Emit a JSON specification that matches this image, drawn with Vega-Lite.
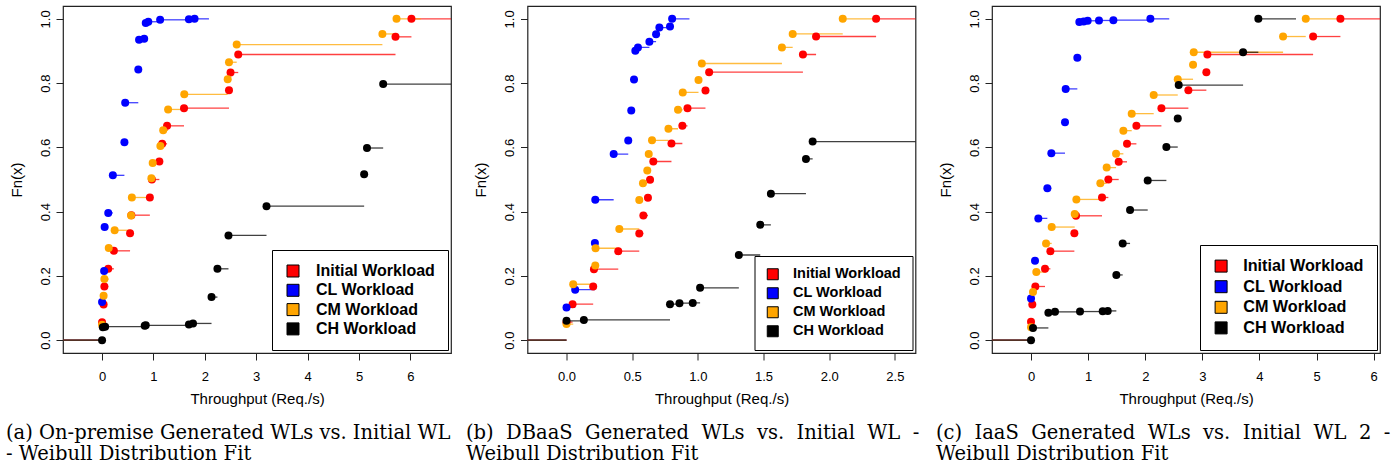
{
"$schema": "https://vega.github.io/schema/vega-lite/v6.json",
"background": "white",
"padding": {"left": 5, "top": 5, "right": 2, "bottom": 2},
"datasets": {
"tails": [
{"p":"a","s":"Initial Workload","from":-1,"to":0},{"p":"a","s":"CL Workload","from":-1,"to":0},{"p":"a","s":"CM Workload","from":-1,"to":0},{"p":"a","s":"CH Workload","from":-1,"to":0},
{"p":"b","s":"Initial Workload","from":-1,"to":0},{"p":"b","s":"CL Workload","from":-1,"to":0},{"p":"b","s":"CM Workload","from":-1,"to":0},{"p":"b","s":"CH Workload","from":-1,"to":0},
{"p":"c","s":"Initial Workload","from":-1,"to":0},{"p":"c","s":"CL Workload","from":-1,"to":0},{"p":"c","s":"CM Workload","from":-1,"to":0},{"p":"c","s":"CH Workload","from":-1,"to":0}
],
"obs": [
{"p":"a","s":"Initial Workload","x":0.0,"y":0.056,"next":0.03},
{"p":"a","s":"Initial Workload","x":0.03,"y":0.111,"next":0.045},
{"p":"a","s":"Initial Workload","x":0.045,"y":0.167,"next":0.12},
{"p":"a","s":"Initial Workload","x":0.12,"y":0.222,"next":0.23},
{"p":"a","s":"Initial Workload","x":0.23,"y":0.278,"next":0.545},
{"p":"a","s":"Initial Workload","x":0.545,"y":0.333,"next":0.57},
{"p":"a","s":"Initial Workload","x":0.57,"y":0.389,"next":0.93},
{"p":"a","s":"Initial Workload","x":0.93,"y":0.444,"next":0.97},
{"p":"a","s":"Initial Workload","x":0.97,"y":0.5,"next":1.115},
{"p":"a","s":"Initial Workload","x":1.115,"y":0.556,"next":1.17},
{"p":"a","s":"Initial Workload","x":1.17,"y":0.611,"next":1.265},
{"p":"a","s":"Initial Workload","x":1.265,"y":0.667,"next":1.595},
{"p":"a","s":"Initial Workload","x":1.595,"y":0.722,"next":2.47},
{"p":"a","s":"Initial Workload","x":2.47,"y":0.778,"next":2.5},
{"p":"a","s":"Initial Workload","x":2.5,"y":0.833,"next":2.65},
{"p":"a","s":"Initial Workload","x":2.65,"y":0.889,"next":5.71},
{"p":"a","s":"Initial Workload","x":5.71,"y":0.944,"next":6.02},
{"p":"a","s":"Initial Workload","x":6.02,"y":1.0,"next":7.5},
{"p":"a","s":"CL Workload","x":0.0,"y":0.119,"next":0.04},
{"p":"a","s":"CL Workload","x":0.04,"y":0.215,"next":0.05},
{"p":"a","s":"CL Workload","x":0.05,"y":0.352,"next":0.12},
{"p":"a","s":"CL Workload","x":0.12,"y":0.396,"next":0.21},
{"p":"a","s":"CL Workload","x":0.21,"y":0.513,"next":0.435},
{"p":"a","s":"CL Workload","x":0.435,"y":0.616,"next":0.45},
{"p":"a","s":"CL Workload","x":0.45,"y":0.739,"next":0.705},
{"p":"a","s":"CL Workload","x":0.705,"y":0.842,"next":0.72},
{"p":"a","s":"CL Workload","x":0.72,"y":0.935,"next":0.82},
{"p":"a","s":"CL Workload","x":0.82,"y":0.938,"next":0.85},
{"p":"a","s":"CL Workload","x":0.85,"y":0.987,"next":0.9},
{"p":"a","s":"CL Workload","x":0.9,"y":0.991,"next":1.13},
{"p":"a","s":"CL Workload","x":1.13,"y":0.997,"next":1.69},
{"p":"a","s":"CL Workload","x":1.69,"y":0.999,"next":1.8},
{"p":"a","s":"CL Workload","x":1.8,"y":1.0,"next":2.08},
{"p":"a","s":"CM Workload","x":0.0,"y":0.048,"next":0.03},
{"p":"a","s":"CM Workload","x":0.03,"y":0.138,"next":0.045},
{"p":"a","s":"CM Workload","x":0.045,"y":0.19,"next":0.13},
{"p":"a","s":"CM Workload","x":0.13,"y":0.287,"next":0.245},
{"p":"a","s":"CM Workload","x":0.245,"y":0.342,"next":0.565},
{"p":"a","s":"CM Workload","x":0.565,"y":0.388,"next":0.58},
{"p":"a","s":"CM Workload","x":0.58,"y":0.444,"next":0.96},
{"p":"a","s":"CM Workload","x":0.96,"y":0.504,"next":0.985},
{"p":"a","s":"CM Workload","x":0.985,"y":0.551,"next":1.135},
{"p":"a","s":"CM Workload","x":1.135,"y":0.604,"next":1.19},
{"p":"a","s":"CM Workload","x":1.19,"y":0.653,"next":1.285},
{"p":"a","s":"CM Workload","x":1.285,"y":0.718,"next":1.6},
{"p":"a","s":"CM Workload","x":1.6,"y":0.765,"next":2.445},
{"p":"a","s":"CM Workload","x":2.445,"y":0.812,"next":2.47},
{"p":"a","s":"CM Workload","x":2.47,"y":0.865,"next":2.62},
{"p":"a","s":"CM Workload","x":2.62,"y":0.92,"next":5.455},
{"p":"a","s":"CM Workload","x":5.455,"y":0.953,"next":5.73},
{"p":"a","s":"CM Workload","x":5.73,"y":1.0,"next":6.2},
{"p":"a","s":"CH Workload","x":0.0,"y":0.0,"next":0.015},
{"p":"a","s":"CH Workload","x":0.015,"y":0.04,"next":0.06},
{"p":"a","s":"CH Workload","x":0.06,"y":0.042,"next":0.83},
{"p":"a","s":"CH Workload","x":0.83,"y":0.045,"next":0.85},
{"p":"a","s":"CH Workload","x":0.85,"y":0.046,"next":1.69},
{"p":"a","s":"CH Workload","x":1.69,"y":0.049,"next":1.77},
{"p":"a","s":"CH Workload","x":1.77,"y":0.052,"next":2.13},
{"p":"a","s":"CH Workload","x":2.13,"y":0.134,"next":2.245},
{"p":"a","s":"CH Workload","x":2.245,"y":0.222,"next":2.46},
{"p":"a","s":"CH Workload","x":2.46,"y":0.326,"next":3.2},
{"p":"a","s":"CH Workload","x":3.2,"y":0.417,"next":5.1},
{"p":"a","s":"CH Workload","x":5.1,"y":0.516,"next":5.155},
{"p":"a","s":"CH Workload","x":5.155,"y":0.598,"next":5.47},
{"p":"a","s":"CH Workload","x":5.47,"y":0.797,"next":8.0},
{"p":"b","s":"Initial Workload","x":0.0,"y":0.056,"next":0.046},
{"p":"b","s":"Initial Workload","x":0.046,"y":0.112,"next":0.203},
{"p":"b","s":"Initial Workload","x":0.203,"y":0.167,"next":0.209},
{"p":"b","s":"Initial Workload","x":0.209,"y":0.221,"next":0.394},
{"p":"b","s":"Initial Workload","x":0.394,"y":0.277,"next":0.554},
{"p":"b","s":"Initial Workload","x":0.554,"y":0.332,"next":0.585},
{"p":"b","s":"Initial Workload","x":0.585,"y":0.388,"next":0.62},
{"p":"b","s":"Initial Workload","x":0.62,"y":0.443,"next":0.636},
{"p":"b","s":"Initial Workload","x":0.636,"y":0.499,"next":0.661},
{"p":"b","s":"Initial Workload","x":0.661,"y":0.556,"next":0.799},
{"p":"b","s":"Initial Workload","x":0.799,"y":0.612,"next":0.882},
{"p":"b","s":"Initial Workload","x":0.882,"y":0.667,"next":0.921},
{"p":"b","s":"Initial Workload","x":0.921,"y":0.722,"next":1.058},
{"p":"b","s":"Initial Workload","x":1.058,"y":0.777,"next":1.086},
{"p":"b","s":"Initial Workload","x":1.086,"y":0.834,"next":1.8},
{"p":"b","s":"Initial Workload","x":1.8,"y":0.889,"next":1.9},
{"p":"b","s":"Initial Workload","x":1.9,"y":0.945,"next":2.357},
{"p":"b","s":"Initial Workload","x":2.357,"y":1.0,"next":3.0},
{"p":"b","s":"CL Workload","x":0.0,"y":0.102,"next":0.066},
{"p":"b","s":"CL Workload","x":0.066,"y":0.157,"next":0.216},
{"p":"b","s":"CL Workload","x":0.216,"y":0.302,"next":0.219},
{"p":"b","s":"CL Workload","x":0.219,"y":0.437,"next":0.359},
{"p":"b","s":"CL Workload","x":0.359,"y":0.579,"next":0.47},
{"p":"b","s":"CL Workload","x":0.47,"y":0.621,"next":0.493},
{"p":"b","s":"CL Workload","x":0.493,"y":0.715,"next":0.514},
{"p":"b","s":"CL Workload","x":0.514,"y":0.811,"next":0.524},
{"p":"b","s":"CL Workload","x":0.524,"y":0.901,"next":0.544},
{"p":"b","s":"CL Workload","x":0.544,"y":0.911,"next":0.631},
{"p":"b","s":"CL Workload","x":0.631,"y":0.929,"next":0.682},
{"p":"b","s":"CL Workload","x":0.682,"y":0.952,"next":0.707},
{"p":"b","s":"CL Workload","x":0.707,"y":0.973,"next":0.788},
{"p":"b","s":"CL Workload","x":0.788,"y":0.976,"next":0.804},
{"p":"b","s":"CL Workload","x":0.804,"y":1.0,"next":0.936},
{"p":"b","s":"CM Workload","x":0.0,"y":0.05,"next":0.051},
{"p":"b","s":"CM Workload","x":0.051,"y":0.174,"next":0.219},
{"p":"b","s":"CM Workload","x":0.219,"y":0.232,"next":0.221},
{"p":"b","s":"CM Workload","x":0.221,"y":0.286,"next":0.402},
{"p":"b","s":"CM Workload","x":0.402,"y":0.346,"next":0.554},
{"p":"b","s":"CM Workload","x":0.554,"y":0.436,"next":0.582},
{"p":"b","s":"CM Workload","x":0.582,"y":0.488,"next":0.615},
{"p":"b","s":"CM Workload","x":0.615,"y":0.528,"next":0.626},
{"p":"b","s":"CM Workload","x":0.626,"y":0.579,"next":0.651},
{"p":"b","s":"CM Workload","x":0.651,"y":0.622,"next":0.776},
{"p":"b","s":"CM Workload","x":0.776,"y":0.658,"next":0.849},
{"p":"b","s":"CM Workload","x":0.849,"y":0.717,"next":0.885},
{"p":"b","s":"CM Workload","x":0.885,"y":0.771,"next":1.005},
{"p":"b","s":"CM Workload","x":1.005,"y":0.81,"next":1.03},
{"p":"b","s":"CM Workload","x":1.03,"y":0.861,"next":1.64},
{"p":"b","s":"CM Workload","x":1.64,"y":0.911,"next":1.722},
{"p":"b","s":"CM Workload","x":1.722,"y":0.953,"next":2.103},
{"p":"b","s":"CM Workload","x":2.103,"y":1.0,"next":2.36},
{"p":"b","s":"CH Workload","x":0.0,"y":0.06,"next":0.132},
{"p":"b","s":"CH Workload","x":0.132,"y":0.063,"next":0.788},
{"p":"b","s":"CH Workload","x":0.788,"y":0.112,"next":0.86},
{"p":"b","s":"CH Workload","x":0.86,"y":0.115,"next":0.961},
{"p":"b","s":"CH Workload","x":0.961,"y":0.116,"next":1.017},
{"p":"b","s":"CH Workload","x":1.017,"y":0.163,"next":1.312},
{"p":"b","s":"CH Workload","x":1.312,"y":0.265,"next":1.475},
{"p":"b","s":"CH Workload","x":1.475,"y":0.359,"next":1.556},
{"p":"b","s":"CH Workload","x":1.556,"y":0.456,"next":1.823},
{"p":"b","s":"CH Workload","x":1.823,"y":0.564,"next":1.874},
{"p":"b","s":"CH Workload","x":1.874,"y":0.618,"next":3.0},
{"p":"c","s":"Initial Workload","x":0.0,"y":0.057,"next":0.023},
{"p":"c","s":"Initial Workload","x":0.023,"y":0.111,"next":0.076},
{"p":"c","s":"Initial Workload","x":0.076,"y":0.167,"next":0.245},
{"p":"c","s":"Initial Workload","x":0.245,"y":0.222,"next":0.339},
{"p":"c","s":"Initial Workload","x":0.339,"y":0.277,"next":0.759},
{"p":"c","s":"Initial Workload","x":0.759,"y":0.333,"next":0.788},
{"p":"c","s":"Initial Workload","x":0.788,"y":0.387,"next":1.243},
{"p":"c","s":"Initial Workload","x":1.243,"y":0.444,"next":1.354},
{"p":"c","s":"Initial Workload","x":1.354,"y":0.5,"next":1.535},
{"p":"c","s":"Initial Workload","x":1.535,"y":0.555,"next":1.681},
{"p":"c","s":"Initial Workload","x":1.681,"y":0.611,"next":1.845},
{"p":"c","s":"Initial Workload","x":1.845,"y":0.667,"next":2.283},
{"p":"c","s":"Initial Workload","x":2.283,"y":0.722,"next":2.755},
{"p":"c","s":"Initial Workload","x":2.755,"y":0.778,"next":3.07},
{"p":"c","s":"Initial Workload","x":3.07,"y":0.834,"next":3.088},
{"p":"c","s":"Initial Workload","x":3.088,"y":0.889,"next":4.939},
{"p":"c","s":"Initial Workload","x":4.939,"y":0.945,"next":5.417},
{"p":"c","s":"Initial Workload","x":5.417,"y":1.0,"next":7.0},
{"p":"c","s":"CL Workload","x":0.0,"y":0.13,"next":0.07},
{"p":"c","s":"CL Workload","x":0.07,"y":0.247,"next":0.128},
{"p":"c","s":"CL Workload","x":0.128,"y":0.379,"next":0.286},
{"p":"c","s":"CL Workload","x":0.286,"y":0.473,"next":0.356},
{"p":"c","s":"CL Workload","x":0.356,"y":0.582,"next":0.595},
{"p":"c","s":"CL Workload","x":0.595,"y":0.678,"next":0.607},
{"p":"c","s":"CL Workload","x":0.607,"y":0.782,"next":0.811},
{"p":"c","s":"CL Workload","x":0.811,"y":0.879,"next":0.846},
{"p":"c","s":"CL Workload","x":0.846,"y":0.99,"next":0.922},
{"p":"c","s":"CL Workload","x":0.922,"y":0.992,"next":0.992},
{"p":"c","s":"CL Workload","x":0.992,"y":0.994,"next":1.19},
{"p":"c","s":"CL Workload","x":1.19,"y":0.995,"next":1.442},
{"p":"c","s":"CL Workload","x":1.442,"y":0.996,"next":2.09},
{"p":"c","s":"CL Workload","x":2.09,"y":1.0,"next":2.42},
{"p":"c","s":"CM Workload","x":0.0,"y":0.04,"next":0.035},
{"p":"c","s":"CM Workload","x":0.035,"y":0.15,"next":0.093},
{"p":"c","s":"CM Workload","x":0.093,"y":0.212,"next":0.263},
{"p":"c","s":"CM Workload","x":0.263,"y":0.301,"next":0.362},
{"p":"c","s":"CM Workload","x":0.362,"y":0.352,"next":0.765},
{"p":"c","s":"CM Workload","x":0.765,"y":0.393,"next":0.794},
{"p":"c","s":"CM Workload","x":0.794,"y":0.438,"next":1.214},
{"p":"c","s":"CM Workload","x":1.214,"y":0.488,"next":1.325},
{"p":"c","s":"CM Workload","x":1.325,"y":0.537,"next":1.489},
{"p":"c","s":"CM Workload","x":1.489,"y":0.58,"next":1.617},
{"p":"c","s":"CM Workload","x":1.617,"y":0.652,"next":1.763},
{"p":"c","s":"CM Workload","x":1.763,"y":0.705,"next":2.148},
{"p":"c","s":"CM Workload","x":2.148,"y":0.763,"next":2.569},
{"p":"c","s":"CM Workload","x":2.569,"y":0.812,"next":2.837},
{"p":"c","s":"CM Workload","x":2.837,"y":0.857,"next":2.849},
{"p":"c","s":"CM Workload","x":2.849,"y":0.896,"next":4.413},
{"p":"c","s":"CM Workload","x":4.413,"y":0.945,"next":4.81},
{"p":"c","s":"CM Workload","x":4.81,"y":1.0,"next":5.4},
{"p":"c","s":"CH Workload","x":0.0,"y":0.0,"next":0.035},
{"p":"c","s":"CH Workload","x":0.035,"y":0.038,"next":0.304},
{"p":"c","s":"CH Workload","x":0.304,"y":0.085,"next":0.42},
{"p":"c","s":"CH Workload","x":0.42,"y":0.088,"next":0.858},
{"p":"c","s":"CH Workload","x":0.858,"y":0.089,"next":1.255},
{"p":"c","s":"CH Workload","x":1.255,"y":0.09,"next":1.343},
{"p":"c","s":"CH Workload","x":1.343,"y":0.091,"next":1.494},
{"p":"c","s":"CH Workload","x":1.494,"y":0.203,"next":1.605},
{"p":"c","s":"CH Workload","x":1.605,"y":0.301,"next":1.734},
{"p":"c","s":"CH Workload","x":1.734,"y":0.405,"next":2.043},
{"p":"c","s":"CH Workload","x":2.043,"y":0.497,"next":2.37},
{"p":"c","s":"CH Workload","x":2.37,"y":0.601,"next":2.569},
{"p":"c","s":"CH Workload","x":2.569,"y":0.69,"next":2.586},
{"p":"c","s":"CH Workload","x":2.586,"y":0.794,"next":3.713},
{"p":"c","s":"CH Workload","x":3.713,"y":0.896,"next":3.98},
{"p":"c","s":"CH Workload","x":3.98,"y":1.0,"next":4.64}
]
},
"config": {
"view": {"stroke": "#222222", "strokeWidth": 1.2},
"axis": {"domain": false, "grid": false, "ticks": true, "tickColor": "#222222", "tickSize": 7, "tickWidth": 1, "labelFont": "Liberation Sans", "labelFontSize": 13, "labelColor": "black", "titleFont": "Liberation Sans", "titleFontSize": 15, "titleFontWeight": "normal", "titleColor": "black"},
"axisX": {"labelPadding": 10, "titlePadding": 8},
"axisY": {"labelAngle": 270, "labelAlign": "center", "labelBaseline": "bottom", "labelPadding": 4, "titlePadding": 15},
"title": {"font": "DejaVu Serif", "fontSize": 19.5, "fontWeight": "normal", "color": "black", "orient": "bottom", "anchor": "start", "frame": "group", "lineHeight": 21, "offset": 18},
"legend": {"labelFont": "Liberation Sans", "labelFontWeight": "bold", "labelColor": "black", "strokeColor": "black", "symbolOpacity": 1, "offset": 3.5}
},
"bounds": "flush",
"spacing": 76.5,
"resolve": {"scale": {"fill": "independent", "stroke": "independent"}, "legend": {"fill": "independent", "stroke": "independent"}},
"hconcat": [
{
"width": 388, "height": 347,
"title": {"text": ["(a) On-premise Generated WLs vs. Initial WL", "- Weibull Distribution Fit"], "dx": -57},
"layer": [
{"data": {"name": "tails"}, "transform": [{"filter": "datum.p == 'a'"}],
 "mark": {"type": "rule", "clip": true, "strokeWidth": 1.3, "opacity": 0.75},
 "encoding": {
  "x": {"field": "from", "type": "quantitative", "title": "Throughput (Req./s)", "scale": {"domain": [-0.76, 6.79], "nice": false, "zero": false}, "axis": {"values": [0,1,2,3,4,5,6], "format": "d"}},
  "x2": {"field": "to"},
  "y": {"datum": 0, "type": "quantitative", "title": "Fn(x)", "scale": {"domain": [-0.04, 1.04], "nice": false, "zero": false}, "axis": {"values": [0,0.2,0.4,0.6,0.8,1], "format": ".1f"}},
  "stroke": {"field": "s", "type": "nominal", "scale": {"domain": ["CH Workload","CM Workload","CL Workload","Initial Workload"], "range": ["#000000","#ffa500","#0000ff","#ff0000"]}, "legend": null}}},
{"data": {"name": "obs"}, "transform": [{"filter": "datum.p == 'a'"}],
 "mark": {"type": "rule", "clip": true, "strokeWidth": 1.3, "opacity": 0.75},
 "encoding": {
  "x": {"field": "x", "type": "quantitative", "title": "Throughput (Req./s)"},
  "x2": {"field": "next"},
  "y": {"field": "y", "type": "quantitative", "title": "Fn(x)"},
  "stroke": {"field": "s", "type": "nominal", "legend": null}}},
{"mark": {"type": "rule", "color": "#b3b3b3", "strokeDash": [4, 4], "strokeWidth": 1.2},
 "encoding": {"y": {"datum": 0, "type": "quantitative", "title": "Fn(x)"}}},
{"mark": {"type": "rule", "color": "#b3b3b3", "strokeDash": [4, 4], "strokeWidth": 1.2},
 "encoding": {"y": {"datum": 1, "type": "quantitative", "title": "Fn(x)"}}},
{"data": {"name": "obs"}, "transform": [{"filter": "datum.p == 'a'"}],
 "mark": {"type": "point", "filled": true, "size": 64, "opacity": 1, "strokeWidth": 0, "clip": true},
 "encoding": {
  "x": {"field": "x", "type": "quantitative", "title": "Throughput (Req./s)"},
  "y": {"field": "y", "type": "quantitative", "title": "Fn(x)"},
  "fill": {"field": "s", "type": "nominal", "scale": {"domain": ["Initial Workload","CL Workload","CM Workload","CH Workload"], "range": ["#ff0000","#0000ff","#ffa500","#000000"]},
   "legend": {"title": null, "orient": "bottom-right", "symbolType": "square", "symbolSize": 144, "symbolStrokeColor": "black", "symbolStrokeWidth": 1, "labelFontSize": 16, "labelOffset": 15, "rowPadding": 3.3, "padding": 13, "strokeColor": "black"}}}}
]
},
{
"width": 388, "height": 347,
"title": {"text": ["(b) \u00a0DBaaS \u00a0Generated \u00a0WLs \u00a0vs. \u00a0Initial \u00a0WL \u00a0-", "Weibull Distribution Fit"], "dx": -61.5},
"layer": [
{"data": {"name": "tails"}, "transform": [{"filter": "datum.p == 'b'"}],
 "mark": {"type": "rule", "clip": true, "strokeWidth": 1.3, "opacity": 0.75},
 "encoding": {
  "x": {"field": "from", "type": "quantitative", "title": "Throughput (Req./s)", "scale": {"domain": [-0.297, 2.657], "nice": false, "zero": false}, "axis": {"values": [0,0.5,1,1.5,2,2.5], "format": ".1f"}},
  "x2": {"field": "to"},
  "y": {"datum": 0, "type": "quantitative", "title": "Fn(x)", "scale": {"domain": [-0.04, 1.04], "nice": false, "zero": false}, "axis": {"values": [0,0.2,0.4,0.6,0.8,1], "format": ".1f"}},
  "stroke": {"field": "s", "type": "nominal", "scale": {"domain": ["CH Workload","CM Workload","CL Workload","Initial Workload"], "range": ["#000000","#ffa500","#0000ff","#ff0000"]}, "legend": null}}},
{"data": {"name": "obs"}, "transform": [{"filter": "datum.p == 'b'"}],
 "mark": {"type": "rule", "clip": true, "strokeWidth": 1.3, "opacity": 0.75},
 "encoding": {
  "x": {"field": "x", "type": "quantitative", "title": "Throughput (Req./s)"},
  "x2": {"field": "next"},
  "y": {"field": "y", "type": "quantitative", "title": "Fn(x)"},
  "stroke": {"field": "s", "type": "nominal", "legend": null}}},
{"mark": {"type": "rule", "color": "#b3b3b3", "strokeDash": [4, 4], "strokeWidth": 1.2},
 "encoding": {"y": {"datum": 0, "type": "quantitative", "title": "Fn(x)"}}},
{"mark": {"type": "rule", "color": "#b3b3b3", "strokeDash": [4, 4], "strokeWidth": 1.2},
 "encoding": {"y": {"datum": 1, "type": "quantitative", "title": "Fn(x)"}}},
{"data": {"name": "obs"}, "transform": [{"filter": "datum.p == 'b'"}],
 "mark": {"type": "point", "filled": true, "size": 64, "opacity": 1, "strokeWidth": 0, "clip": true},
 "encoding": {
  "x": {"field": "x", "type": "quantitative", "title": "Throughput (Req./s)"},
  "y": {"field": "y", "type": "quantitative", "title": "Fn(x)"},
  "fill": {"field": "s", "type": "nominal", "scale": {"domain": ["Initial Workload","CL Workload","CM Workload","CH Workload"], "range": ["#ff0000","#0000ff","#ffa500","#000000"]},
   "legend": {"title": null, "orient": "bottom-right", "symbolType": "square", "symbolSize": 121, "symbolStrokeColor": "black", "symbolStrokeWidth": 1, "labelFontSize": 14.5, "labelOffset": 13, "rowPadding": 3, "padding": 11, "strokeColor": "black"}}}}
]
},
{
"width": 388, "height": 347,
"title": {"text": ["(c) \u00a0IaaS \u00a0Generated \u00a0WLs \u00a0vs. \u00a0Initial \u00a0WL \u00a02 \u00a0-", "Weibull Distribution Fit"], "dx": -56},
"layer": [
{"data": {"name": "tails"}, "transform": [{"filter": "datum.p == 'c'"}],
 "mark": {"type": "rule", "clip": true, "strokeWidth": 1.3, "opacity": 0.75},
 "encoding": {
  "x": {"field": "from", "type": "quantitative", "title": "Throughput (Req./s)", "scale": {"domain": [-0.683, 6.11], "nice": false, "zero": false}, "axis": {"values": [0,1,2,3,4,5,6], "format": "d"}},
  "x2": {"field": "to"},
  "y": {"datum": 0, "type": "quantitative", "title": "Fn(x)", "scale": {"domain": [-0.04, 1.04], "nice": false, "zero": false}, "axis": {"values": [0,0.2,0.4,0.6,0.8,1], "format": ".1f"}},
  "stroke": {"field": "s", "type": "nominal", "scale": {"domain": ["CH Workload","CM Workload","CL Workload","Initial Workload"], "range": ["#000000","#ffa500","#0000ff","#ff0000"]}, "legend": null}}},
{"data": {"name": "obs"}, "transform": [{"filter": "datum.p == 'c'"}],
 "mark": {"type": "rule", "clip": true, "strokeWidth": 1.3, "opacity": 0.75},
 "encoding": {
  "x": {"field": "x", "type": "quantitative", "title": "Throughput (Req./s)"},
  "x2": {"field": "next"},
  "y": {"field": "y", "type": "quantitative", "title": "Fn(x)"},
  "stroke": {"field": "s", "type": "nominal", "legend": null}}},
{"mark": {"type": "rule", "color": "#b3b3b3", "strokeDash": [4, 4], "strokeWidth": 1.2},
 "encoding": {"y": {"datum": 0, "type": "quantitative", "title": "Fn(x)"}}},
{"mark": {"type": "rule", "color": "#b3b3b3", "strokeDash": [4, 4], "strokeWidth": 1.2},
 "encoding": {"y": {"datum": 1, "type": "quantitative", "title": "Fn(x)"}}},
{"data": {"name": "obs"}, "transform": [{"filter": "datum.p == 'c'"}],
 "mark": {"type": "point", "filled": true, "size": 64, "opacity": 1, "strokeWidth": 0, "clip": true},
 "encoding": {
  "x": {"field": "x", "type": "quantitative", "title": "Throughput (Req./s)"},
  "y": {"field": "y", "type": "quantitative", "title": "Fn(x)"},
  "fill": {"field": "s", "type": "nominal", "scale": {"domain": ["Initial Workload","CL Workload","CM Workload","CH Workload"], "range": ["#ff0000","#0000ff","#ffa500","#000000"]},
   "legend": {"title": null, "orient": "bottom-right", "symbolType": "square", "symbolSize": 144, "symbolStrokeColor": "black", "symbolStrokeWidth": 1, "labelFontSize": 16.2, "labelOffset": 14, "rowPadding": 3.6, "padding": 13, "strokeColor": "black"}}}}
]
}
]
}
